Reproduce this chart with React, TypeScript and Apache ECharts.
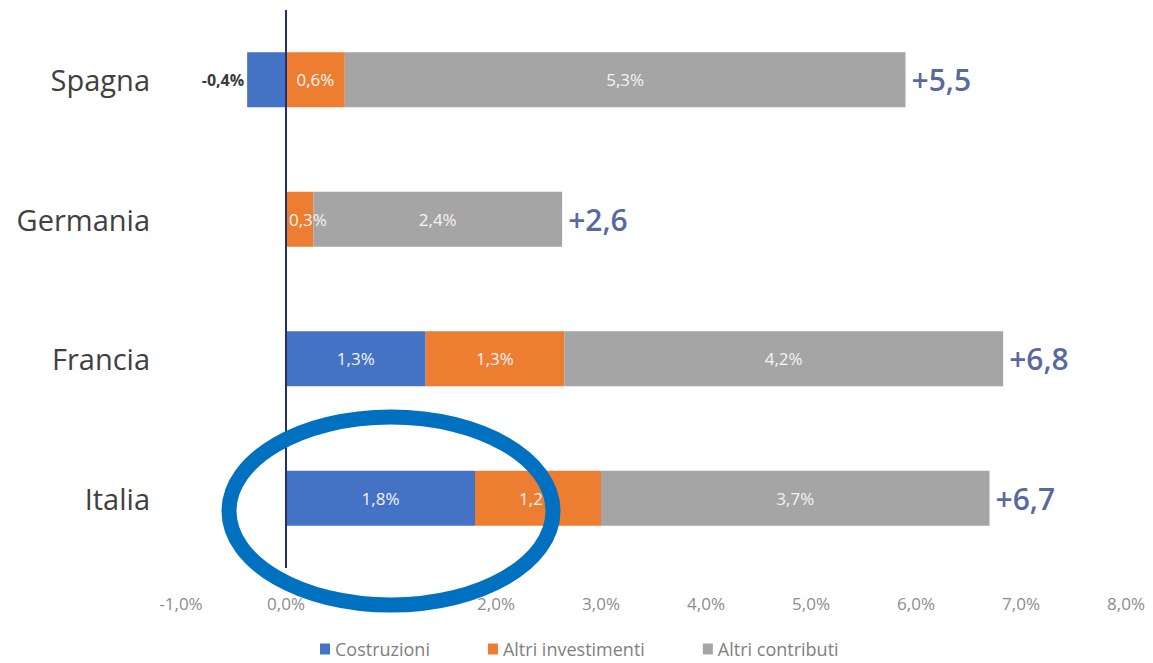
import React, { useEffect, useRef } from "react";
import * as echarts from "echarts";

const countries = ["Spagna", "Germania", "Francia", "Italia"];
const costruzioni = [-0.37, 0, 1.33, 1.8];
const altriInvestimenti = [0.56, 0.26, 1.32, 1.2];
const altriContributi = [5.34, 2.37, 4.18, 3.7];
const totals = [5.5, 2.6, 6.8, 6.7];
const xTicks = { min: -1, max: 8, interval: 1 };

const fmtPct = (v: number) => v.toFixed(1).replace(".", ",") + "%";

export default function App() {
  const ref = useRef<HTMLDivElement>(null);
  useEffect(() => {
    if (!ref.current) return;
    const chart = echarts.init(ref.current, null, { renderer: "svg" });
    const font = "'Open Sans', 'Noto Sans', sans-serif";
    const inside = {
      show: true,
      position: "inside",
      color: "#f4f4f4",
      fontSize: 17,
      fontFamily: font,
      formatter: (p: any) => fmtPct(p.value),
    };
    const mk = (arr: number[]) =>
      arr.map((v) =>
        v === 0
          ? { value: 0, label: { show: false } }
          : v < 0
          ? { value: v, label: { position: "left", distance: 3, color: "#3a3a3a", fontWeight: "bold", fontSize: 16 } }
          : v < 0.4
          ? { value: v, label: { position: "insideLeft", distance: 3 } }
          : { value: v }
      );
    const posSums = countries.map(
      (_, i) =>
        Math.max(costruzioni[i], 0) + Math.max(altriInvestimenti[i], 0) + Math.max(altriContributi[i], 0)
    );
    chart.setOption({
      animation: false,
      grid: { left: 181, width: 945, top: 10, height: 558, containLabel: false },
      xAxis: {
        type: "value",
        min: xTicks.min,
        max: xTicks.max,
        interval: xTicks.interval,
        axisLine: { show: false },
        axisTick: { show: false },
        splitLine: { show: false },
        axisLabel: {
          margin: 27,
          color: "#8c8c8c",
          fontSize: 17,
          fontFamily: font,
          formatter: (v: number) => fmtPct(v),
        },
      },
      yAxis: {
        type: "category",
        data: countries,
        inverse: true,
        axisLine: { show: false },
        axisTick: { show: false },
        axisLabel: { margin: 31, color: "#404040", fontSize: 29, fontFamily: font },
      },
      legend: {
        bottom: 0,
        left: 315,
        itemWidth: 10,
        itemHeight: 11,
        itemGap: 58,
        icon: "rect",
        textStyle: { color: "#7f7f7f", fontSize: 18, fontFamily: font },
        data: ["Costruzioni", "Altri investimenti", "Altri contributi"],
      },
      series: [
        {
          name: "Costruzioni",
          type: "bar",
          stack: "tot",
          barWidth: 55,
          itemStyle: { color: "#4472C4" },
          label: inside,
          data: mk(costruzioni),
          markLine: {
            silent: true,
            symbol: "none",
            label: { show: false },
            lineStyle: { color: "#1F2F6F", width: 2, type: "solid" },
            data: [{ xAxis: 0 }],
          },
        },
        {
          name: "Altri investimenti",
          type: "bar",
          stack: "tot",
          itemStyle: { color: "#ED7D31" },
          label: inside,
          data: mk(altriInvestimenti),
        },
        {
          name: "Altri contributi",
          type: "bar",
          stack: "tot",
          itemStyle: { color: "#A5A5A5" },
          label: inside,
          data: mk(altriContributi),
        },
        {
          name: "Totale",
          type: "scatter",
          symbolSize: 0,
          silent: true,
          data: posSums.map((s, i) => [s, countries[i]]),
          label: {
            show: true,
            position: "right",
            distance: 6,
            color: "#2B3F86",
            fontSize: 30,
            fontWeight: 600,
            fontFamily: font,
            formatter: (p: any) => "+" + totals[p.dataIndex].toFixed(1).replace(".", ","),
          },
        },
      ],
      graphic: [
        {
          type: "ellipse",
          shape: { cx: 391, cy: 511, rx: 162, ry: 94 },
          style: { fill: "none", stroke: "#0070C0", lineWidth: 15 },
          z: 100,
        },
      ],
    });
    return () => chart.dispose();
  }, []);
  return (
    <div
      ref={ref}
      style={{ position: "absolute", left: 0, top: 0, width: 1153, height: 663, background: "#fff" }}
    />
  );
}
